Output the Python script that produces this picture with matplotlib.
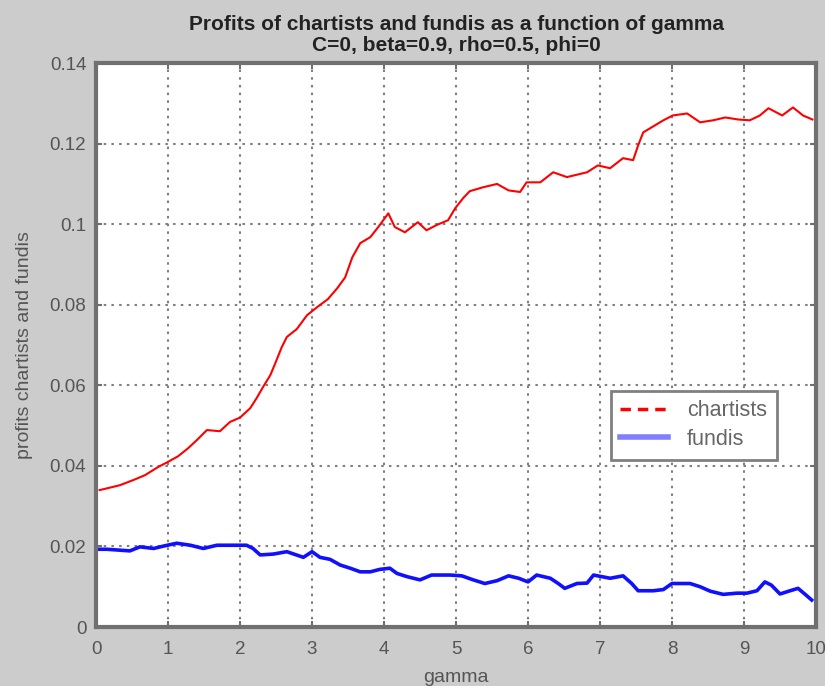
import matplotlib
matplotlib.use("Agg")
import matplotlib.pyplot as plt
from matplotlib.lines import Line2D

plt.rcParams['font.family'] = ['Liberation Sans', 'DejaVu Sans']

gamma_c = [0.05, 0.10, 0.33, 0.52, 0.68, 0.86, 1.00, 1.14, 1.28, 1.40, 1.54, 1.72, 1.86, 2.00,
           2.14, 2.23, 2.32, 2.42, 2.49, 2.58, 2.65, 2.79, 2.93, 3.07, 3.22, 3.35, 3.46, 3.56,
           3.67, 3.81, 3.92, 4.06, 4.15, 4.29, 4.47, 4.59, 4.73, 4.89, 4.99, 5.10, 5.19, 5.38,
           5.57, 5.73, 5.89, 5.98, 6.17, 6.35, 6.54, 6.82, 6.97, 7.14, 7.32, 7.46, 7.53, 7.60,
           7.74, 7.88, 8.01, 8.21, 8.39, 8.57, 8.74, 8.92, 9.08, 9.22, 9.34, 9.53, 9.68, 9.82, 9.95]
chartists = [0.0340, 0.0342, 0.0352, 0.0365, 0.0377, 0.0397, 0.0410, 0.0424, 0.0444, 0.0464,
             0.0489, 0.0486, 0.0509, 0.0520, 0.0543, 0.0568, 0.0596, 0.0625, 0.0655, 0.0695,
             0.0720, 0.0740, 0.0774, 0.0794, 0.0814, 0.0841, 0.0868, 0.0918, 0.0953, 0.0968,
             0.0993, 0.1027, 0.0993, 0.0980, 0.1005, 0.0985, 0.0998, 0.1010, 0.1040, 0.1065,
             0.1082, 0.1092, 0.1100, 0.1084, 0.1080, 0.1104, 0.1104, 0.1129, 0.1117, 0.1129,
             0.1146, 0.1139, 0.1164, 0.1159, 0.1196, 0.1228, 0.1243, 0.1258, 0.1270, 0.1275,
             0.1253, 0.1258, 0.1265, 0.1260, 0.1258, 0.1270, 0.1288, 0.1270, 0.1290, 0.1270, 0.1260]

gamma_f = [0.05, 0.15, 0.47, 0.61, 0.80, 0.94, 1.12, 1.31, 1.49, 1.68, 2.09, 2.18, 2.28, 2.46,
           2.65, 2.88, 3.00, 3.11, 3.25, 3.39, 3.53, 3.67, 3.81, 3.94, 4.08, 4.18, 4.32, 4.50,
           4.66, 4.92, 5.08, 5.24, 5.40, 5.57, 5.73, 5.87, 6.00, 6.12, 6.31, 6.42, 6.51, 6.68,
           6.82, 6.91, 7.14, 7.32, 7.44, 7.53, 7.74, 7.88, 8.00, 8.25, 8.39, 8.53, 8.71, 8.90,
           9.04, 9.18, 9.29, 9.38, 9.50, 9.64, 9.75, 9.85, 9.94]
fundis = [0.0193, 0.0193, 0.0189, 0.0199, 0.0195, 0.0201, 0.0208, 0.0203, 0.0195, 0.0203,
          0.0203, 0.0195, 0.0179, 0.0181, 0.0187, 0.0173, 0.0187, 0.0173, 0.0168, 0.0154,
          0.0146, 0.0137, 0.0137, 0.0143, 0.0146, 0.0133, 0.0125, 0.0117, 0.0129, 0.0129,
          0.0127, 0.0117, 0.0108, 0.0115, 0.0127, 0.0121, 0.0112, 0.0129, 0.0121, 0.0108,
          0.0096, 0.0108, 0.0109, 0.0129, 0.0121, 0.0127, 0.0108, 0.0090, 0.0090, 0.0093,
          0.0108, 0.0108, 0.0100, 0.0089, 0.0081, 0.0084, 0.0084, 0.0090, 0.0112, 0.0104,
          0.0082, 0.0090, 0.0096, 0.0081, 0.0067]

xticks = [0, 1, 2, 3, 4, 5, 6, 7, 8, 9, 10]
yticks = [0, 0.02, 0.04, 0.06, 0.08, 0.1, 0.12, 0.14]
ytick_labels = ['0', '0.02', '0.04', '0.06', '0.08', '0.1', '0.12', '0.14']

fig = plt.figure(figsize=(8.25, 6.86), dpi=100, facecolor='#cccccc')
ax = fig.add_axes([0.1164, 0.086, 0.8727, 0.822])
ax.set_facecolor('white')

ax.plot(gamma_c, chartists, color='#ff0000', lw=1.5)
ax.plot(gamma_f, fundis, color='#1010ff', lw=2.6)

ax.set_xlim(0, 10)
ax.set_ylim(0, 0.14)
ax.set_xticks(xticks)
ax.set_yticks(yticks)
ax.set_yticklabels(ytick_labels)
ax.grid(True, color='#808080', linestyle=(0, (1.2, 2.5)), lw=1.5)
ax.tick_params(direction='in', length=4, width=1.5, colors='#707070',
               labelcolor='#555555', labelsize=13.5, top=True, right=True)
ax.tick_params(axis='x', pad=10)
ax.tick_params(axis='y', pad=7)
for s in ax.spines.values():
    s.set_color('#707070')
    s.set_linewidth(3)

ax.set_xlabel('gamma', fontsize=14, color='#555555', labelpad=8)
ax.set_ylabel('profits chartists and fundis', fontsize=14, color='#555555', labelpad=12)
ax.set_title('Profits of chartists and fundis as a function of gamma\nC=0, beta=0.9, rho=0.5, phi=0',
             fontsize=15, fontweight='bold', color='#222222', pad=9, linespacing=1.1)

handles = [Line2D([], [], color='#ff0000', lw=2.5, linestyle=(0, (3, 2))),
           Line2D([], [], color='#8080ff', lw=4)]
leg = ax.legend(handles, ['chartists', 'fundis'], loc='center',
                bbox_to_anchor=(0.83, 0.358), fontsize=15.5, fancybox=False,
                framealpha=1, edgecolor='#808080', handlelength=2.2,
                borderpad=0.45, labelspacing=0.35, handletextpad=0.9)
leg.get_frame().set_linewidth(2)
for t in leg.get_texts():
    t.set_color('#666666')

fig.savefig('out.png', dpi=100, facecolor=fig.get_facecolor())
